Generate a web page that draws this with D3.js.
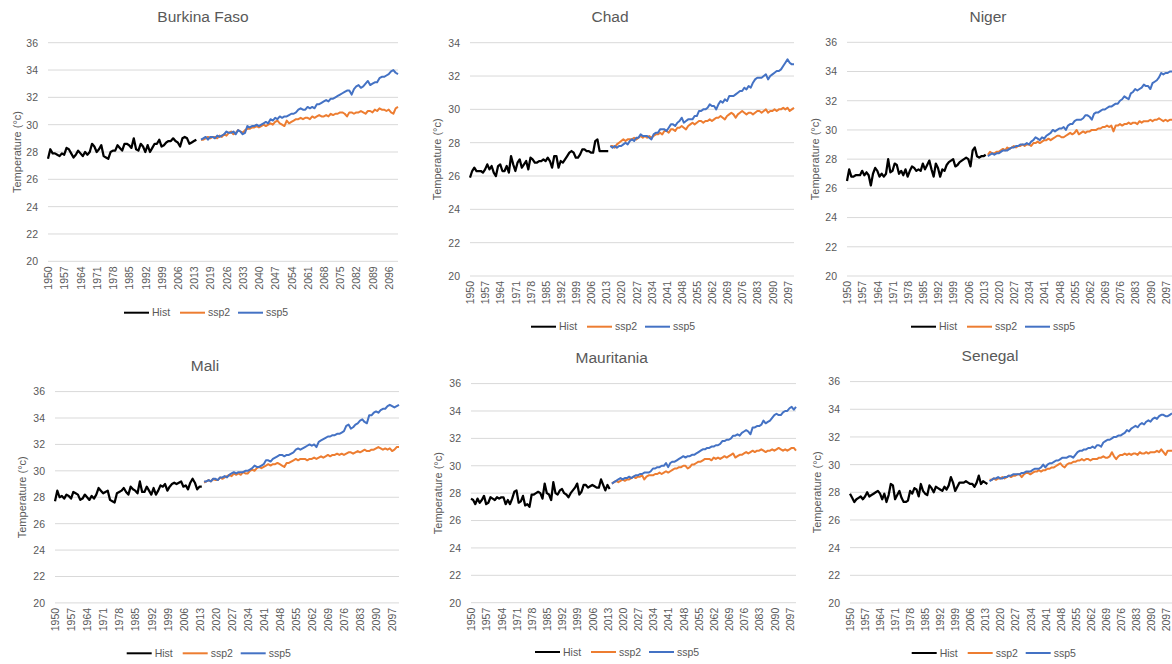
<!DOCTYPE html>
<html>
<head>
<meta charset="utf-8">
<script src="https://cdn.jsdelivr.net/npm/d3@7"></script>
<style>
  html, body { margin: 0; padding: 0; background: #fff; overflow: hidden; }
  svg { display: block; font-family: "Liberation Sans", Arial, sans-serif; }
</style>
</head>
<body>
<svg id="chart" width="1172" height="664"></svg>
<script>
// ---- categories ----
const histYears = d3.range(1950, 2015);   // historical period
const sspYears = d3.range(2015, 2101);    // scenario period
const tickYears = [1950, 1957, 1964, 1971, 1978, 1985, 1992, 1999, 2006, 2013,
  2020, 2027, 2034, 2041, 2048, 2055, 2062, 2069, 2076, 2083, 2090, 2097];
const tickYearsBF = [1950, 1957, 1964, 1971, 1978, 1985, 1992, 1999, 2006, 2013,
  2019, 2026, 2033, 2040, 2047, 2054, 2061, 2068, 2075, 2082, 2089, 2096];
const yTicks36 = [20, 22, 24, 26, 28, 30, 32, 34, 36];
const yTicks34 = [20, 22, 24, 26, 28, 30, 32, 34];

const countries = ["Burkina Faso", "Chad", "Niger", "Mali", "Mauritania", "Senegal"];
const seriesNames = ["Hist", "ssp2", "ssp5"];

// ---- mean annual temperature (°C) ----
const burkinaHist = [
  27.5, 28.2, 27.9, 27.9, 27.8, 27.7, 27.9, 27.8, 28.3, 28.2,
  27.9, 27.6, 27.8, 28.1, 27.9, 27.7, 28.0, 27.8, 28.0, 28.6,
  28.4, 28.0, 28.2, 28.5, 27.7, 27.6, 27.5, 28.0, 28.1, 28.1,
  28.5, 28.3, 28.1, 28.6, 28.6, 28.5, 28.3, 29.0, 28.2, 28.1,
  28.6, 28.4, 28.0, 28.5, 28.0, 28.3, 28.6, 28.6, 28.9, 28.4,
  28.5, 28.7, 28.8, 28.8, 29.0, 28.8, 28.7, 28.4, 29.0, 29.1,
  29.0, 28.6, 28.7, 28.8, 28.9];
const burkinaSsp2 = [
  28.9, 28.9, 29.0, 29.1, 29.0, 29.1, 29.1, 29.0, 29.2, 29.1,
  29.3, 29.2, 29.4, 29.5, 29.3, 29.4, 29.6, 29.5, 29.4, 29.6,
  29.7, 29.7, 29.8, 29.8, 29.9, 29.8, 29.9, 30.0, 29.9, 30.0,
  30.1, 30.0, 30.2, 30.3, 30.1, 30.0, 29.9, 30.3, 30.1, 30.2,
  30.3, 30.4, 30.4, 30.5, 30.4, 30.5, 30.5, 30.4, 30.6, 30.5,
  30.6, 30.7, 30.6, 30.6, 30.7, 30.6, 30.8, 30.7, 30.8, 30.8,
  30.9, 30.9, 30.8, 30.6, 30.9, 30.9, 30.8, 30.9, 30.9, 31.0,
  30.9, 30.8, 31.0, 31.0, 30.9, 31.1, 31.0, 31.2, 31.1, 31.1,
  31.0, 31.1, 30.9, 30.8, 31.2, 31.3];
const burkinaSsp5 = [
  28.9, 29.0, 29.1, 28.9, 29.1, 29.1, 29.0, 29.2, 29.1, 29.2,
  29.3, 29.5, 29.4, 29.4, 29.5, 29.3, 29.6, 29.5, 29.3, 29.4,
  29.9, 29.8, 29.9, 29.9, 30.0, 29.9, 30.0, 30.1, 30.2, 30.1,
  30.4, 30.3, 30.5, 30.4, 30.6, 30.5, 30.6, 30.6, 30.7, 30.8,
  30.8, 30.9, 31.1, 31.2, 31.1, 31.1, 31.3, 31.2, 31.3, 31.2,
  31.5, 31.5, 31.6, 31.7, 31.8, 31.7, 31.9, 31.9, 32.0, 32.1,
  32.2, 32.3, 32.4, 32.5, 32.5, 32.2, 32.6, 32.8, 32.9, 32.7,
  32.8, 33.0, 33.2, 32.9, 33.0, 33.1, 33.1, 33.4, 33.5, 33.5,
  33.6, 33.7, 33.9, 34.0, 33.8, 33.7];

const chadHist = [
  25.9, 26.3, 26.5, 26.3, 26.3, 26.3, 26.2, 26.4, 26.7, 26.4,
  26.6, 26.2, 26.0, 26.6, 26.7, 26.3, 26.3, 26.6, 26.2, 27.2,
  26.7, 26.3, 26.8, 27.0, 26.5, 26.7, 26.9, 26.4, 27.1, 27.0,
  26.8, 26.8, 26.9, 26.9, 27.0, 26.9, 27.1, 26.9, 26.5, 27.2,
  27.2, 26.5, 26.9, 26.8, 27.0, 27.2, 27.4, 27.5, 27.4, 27.1,
  27.1, 27.3, 27.6, 27.6, 27.5, 27.5, 27.4, 27.4, 28.1, 28.2,
  27.5, 27.5, 27.5, 27.5, 27.5];
const chadSsp2 = [
  27.8, 27.8, 27.7, 27.9, 28.0, 28.1, 28.2, 28.1, 28.2, 28.2,
  28.2, 28.3, 28.2, 28.3, 28.4, 28.3, 28.4, 28.3, 28.4, 28.3,
  28.4, 28.5, 28.5, 28.6, 28.5, 28.7, 28.7, 28.6, 28.8, 28.8,
  28.7, 28.9, 28.9, 29.0, 28.9, 28.8, 29.0, 29.1, 29.2, 29.1,
  29.2, 29.3, 29.3, 29.2, 29.3, 29.3, 29.4, 29.3, 29.4, 29.5,
  29.5, 29.6, 29.5, 29.4, 29.6, 29.7, 29.8, 29.7, 29.5, 29.7,
  29.8, 29.9, 29.8, 29.7, 29.8, 29.8, 29.7, 29.8, 29.9, 29.9,
  29.8, 29.9, 30.0, 29.8, 29.9, 29.9, 30.0, 29.9, 30.0, 30.0,
  30.1, 30.0, 30.1, 29.9, 30.0, 30.1];
const chadSsp5 = [
  27.8, 27.7, 27.8, 27.7, 27.8, 27.8, 27.9, 28.0, 27.9, 28.1,
  28.2, 28.1, 28.3, 28.3, 28.5, 28.4, 28.4, 28.4, 28.3, 28.2,
  28.5, 28.6, 28.6, 28.8, 28.8, 28.8, 28.7, 28.9, 29.1, 29.1,
  29.0, 29.2, 29.3, 29.5, 29.2, 29.3, 29.4, 29.4, 29.4, 29.6,
  29.6, 29.9, 29.9, 30.0, 30.0, 30.1, 30.3, 30.2, 30.2, 30.0,
  30.3, 30.5, 30.4, 30.6, 30.5, 30.8, 30.8, 30.8, 30.9, 31.0,
  31.1, 31.1, 31.3, 31.2, 31.4, 31.3, 31.6, 31.8, 31.9, 31.9,
  31.9, 32.0, 32.1, 31.8, 32.0, 32.1, 32.2, 32.3, 32.3, 32.4,
  32.6, 32.8, 33.0, 32.8, 32.7, 32.7];

const nigerHist = [
  26.5, 27.3, 26.8, 26.8, 26.9, 26.9, 26.9, 27.2, 26.9, 27.1,
  26.9, 26.2, 27.0, 27.4, 27.2, 26.8, 27.0, 26.8, 27.0, 28.0,
  27.1, 27.2, 27.7, 27.6, 27.0, 27.2, 26.9, 27.3, 26.8, 27.2,
  27.5, 27.4, 27.2, 27.3, 27.2, 27.7, 27.3, 27.6, 27.9, 27.3,
  26.8, 27.7, 27.4, 26.8, 27.3, 27.2, 27.6, 27.8, 27.9, 28.0,
  27.5, 27.6, 27.8, 27.9, 28.0, 28.1, 28.0, 27.5, 28.6, 28.8,
  28.2, 28.1, 28.2, 28.2, 28.3];
const nigerSsp2 = [
  28.3, 28.5, 28.4, 28.4, 28.5, 28.5, 28.6, 28.7, 28.6, 28.8,
  28.7, 28.8, 28.9, 28.8, 28.9, 28.9, 29.0, 28.9, 29.0, 29.0,
  28.9, 29.1, 29.1, 29.2, 29.1, 29.2, 29.3, 29.3, 29.4, 29.3,
  29.4, 29.5, 29.6, 29.6, 29.5, 29.5, 29.6, 29.7, 29.8, 29.7,
  29.8, 30.0, 29.7, 29.8, 29.9, 29.8, 29.9, 29.9, 30.0, 30.0,
  30.0, 30.1, 30.1, 30.2, 30.2, 30.3, 30.2, 30.3, 29.9, 30.3,
  30.3, 30.4, 30.3, 30.4, 30.4, 30.5, 30.4, 30.5, 30.5, 30.4,
  30.6, 30.5, 30.6, 30.6, 30.6, 30.7, 30.6, 30.7, 30.7, 30.8,
  30.7, 30.6, 30.7, 30.6, 30.7, 30.7];
const nigerSsp5 = [
  28.2, 28.3, 28.4, 28.3, 28.4, 28.4, 28.5, 28.6, 28.6, 28.6,
  28.7, 28.8, 28.8, 28.9, 28.9, 29.0, 29.0, 29.0, 29.1, 29.0,
  29.2, 29.3, 29.5, 29.4, 29.3, 29.5, 29.4, 29.6, 29.7, 29.8,
  30.0, 29.9, 30.0, 30.1, 30.1, 30.2, 30.0, 30.3, 30.4, 30.4,
  30.6, 30.7, 30.7, 30.7, 30.8, 31.0, 31.0, 30.9, 30.7, 31.1,
  31.2, 31.2, 31.3, 31.4, 31.4, 31.5, 31.6, 31.6, 31.7, 31.8,
  31.8, 32.0, 32.1, 32.3, 32.2, 32.1, 32.5, 32.6, 32.8, 32.7,
  32.8, 32.9, 33.1, 33.0, 33.0, 32.8, 33.2, 33.3, 33.4, 33.6,
  33.9, 33.8, 33.9, 33.9, 34.0, 34.0];

const maliHist = [
  27.7, 28.5, 28.0, 28.1, 27.9, 28.2, 28.1, 27.9, 28.4, 28.3,
  28.2, 27.8, 27.9, 28.2, 28.0, 27.8, 28.1, 27.9, 28.2, 28.7,
  28.5, 28.3, 28.4, 28.5, 27.8, 27.7, 27.6, 28.3, 28.4, 28.5,
  28.7, 28.4, 28.2, 28.8, 28.6, 28.5, 28.3, 29.2, 28.4, 28.4,
  28.8, 28.5, 28.2, 28.7, 28.2, 28.5, 28.9, 28.8, 29.0, 28.5,
  28.8, 29.0, 29.1, 29.0, 29.1, 29.2, 28.8, 28.9, 28.6, 29.1,
  29.4, 29.1, 28.6, 28.8, 28.8];
const maliSsp2 = [
  29.1, 29.2, 29.3, 29.2, 29.4, 29.3, 29.3, 29.5, 29.4, 29.5,
  29.6, 29.7, 29.6, 29.8, 29.7, 29.8, 29.7, 29.9, 29.8, 29.8,
  30.0, 30.1, 30.0, 30.2, 30.3, 30.2, 30.3, 30.4, 30.5, 30.4,
  30.5, 30.5, 30.6, 30.5, 30.4, 30.3, 30.6, 30.6, 30.7, 30.8,
  30.9, 30.8, 30.9, 30.9, 30.9, 30.8, 30.9, 30.9, 31.0, 30.9,
  31.0, 31.1, 31.0, 31.1, 31.2, 31.1, 31.2, 31.2, 31.3, 31.2,
  31.3, 31.2, 31.3, 31.4, 31.4, 31.3, 31.4, 31.5, 31.4, 31.5,
  31.6, 31.5, 31.5, 31.6, 31.6, 31.7, 31.8, 31.7, 31.6, 31.7,
  31.6, 31.7, 31.5, 31.6, 31.8, 31.8];
const maliSsp5 = [
  29.2, 29.2, 29.3, 29.2, 29.4, 29.4, 29.3, 29.5, 29.5, 29.6,
  29.5, 29.7, 29.8, 29.9, 29.8, 29.9, 29.9, 29.9, 30.0, 30.0,
  30.1, 30.2, 30.4, 30.3, 30.3, 30.4, 30.5, 30.8, 30.8, 30.7,
  30.9, 31.0, 31.1, 31.2, 31.2, 31.1, 31.2, 31.2, 31.3, 31.4,
  31.6, 31.7, 31.6, 31.7, 31.8, 31.9, 32.0, 31.9, 32.0, 31.8,
  32.2, 32.3, 32.4, 32.5, 32.6, 32.6, 32.7, 32.7, 32.8, 32.8,
  32.9, 33.0, 33.4, 33.5, 33.2, 33.3, 33.5, 33.6, 33.8, 33.9,
  33.7, 33.6, 34.2, 34.2, 34.4, 34.5, 34.4, 34.6, 34.7, 34.7,
  34.9, 35.0, 34.9, 34.8, 34.9, 35.0];

const mauritaniaHist = [
  27.6, 27.5, 27.2, 27.6, 27.3, 27.5, 27.8, 27.2, 27.3, 27.7,
  27.6, 27.5, 27.7, 27.6, 27.7, 27.7, 27.2, 27.5, 27.2, 27.6,
  28.1, 28.2, 27.3, 27.4, 27.8, 27.1, 27.2, 27.0, 27.9, 27.9,
  28.0, 28.1, 28.0, 27.6, 28.7, 28.0, 27.9, 27.5, 28.8, 28.0,
  27.9, 28.2, 28.3, 28.0, 27.9, 27.7, 28.0, 28.2, 28.4, 28.7,
  27.9, 28.1, 28.6, 28.6, 28.4, 28.5, 28.6, 28.5, 28.4, 28.4,
  29.0, 28.6, 28.2, 28.6, 28.3];
const mauritaniaSsp2 = [
  28.7, 28.8, 28.9, 28.8, 28.9, 29.0, 28.9, 29.0, 29.0, 29.1,
  29.2, 29.1, 29.2, 29.2, 29.3, 29.0, 29.2, 29.3, 29.3, 29.3,
  29.4, 29.4, 29.5, 29.4, 29.5, 29.6, 29.5, 29.6, 29.7, 29.8,
  29.8, 29.9, 29.9, 30.0, 30.0, 29.8, 29.9, 30.1, 30.1, 30.2,
  30.3, 30.3, 30.4, 30.5, 30.5, 30.5, 30.4, 30.6, 30.5, 30.6,
  30.5, 30.6, 30.7, 30.6, 30.7, 30.8, 30.9, 30.6, 30.7, 30.8,
  30.8, 30.9, 31.0, 30.9, 31.0, 31.1, 31.0, 31.1, 31.1, 31.2,
  31.1, 31.0, 31.1, 31.1, 31.2, 31.1, 31.2, 31.3, 31.2, 31.1,
  31.2, 31.1, 31.2, 31.3, 31.3, 31.1];
const mauritaniaSsp5 = [
  28.7, 28.8, 28.9, 29.0, 29.1, 29.0, 29.1, 29.1, 29.2, 29.1,
  29.2, 29.3, 29.3, 29.4, 29.4, 29.5, 29.5, 29.5, 29.6, 29.8,
  29.8, 29.9, 29.9, 30.0, 30.0, 30.2, 29.9, 30.2, 30.3, 30.3,
  30.4, 30.5, 30.6, 30.7, 30.6, 30.7, 30.7, 30.8, 30.8, 30.9,
  31.0, 31.1, 31.2, 31.2, 31.3, 31.3, 31.4, 31.4, 31.5, 31.5,
  31.6, 31.8, 31.8, 31.9, 31.9, 32.0, 32.2, 32.2, 32.3, 32.2,
  32.4, 32.5, 32.6, 32.5, 32.3, 32.8, 32.8, 32.9, 32.9, 33.0,
  33.3, 33.1, 33.2, 33.3, 33.5, 33.7, 33.8, 33.7, 33.7, 33.9,
  34.0, 34.0, 34.2, 34.3, 34.1, 34.3];

const senegalHist = [
  27.9, 27.6, 27.3, 27.5, 27.6, 27.7, 27.5, 27.7, 28.0, 27.7,
  27.8, 27.9, 28.0, 28.1, 27.9, 27.5, 27.9, 27.3, 27.8, 28.6,
  28.5, 27.5, 27.8, 28.1, 27.6, 27.3, 27.3, 27.4, 28.1, 27.9,
  28.3, 28.2, 27.7, 28.6, 28.1, 27.9, 27.8, 28.5, 28.3, 28.0,
  28.4, 28.3, 28.2, 28.1, 28.4, 28.2, 28.5, 29.1, 28.7, 28.1,
  28.4, 28.7, 28.7, 28.7, 28.8, 28.7, 28.6, 28.6, 28.4, 28.7,
  29.2, 28.6, 28.8, 28.7, 28.6];
const senegalSsp2 = [
  28.9, 28.9, 29.0, 28.9, 29.0, 29.0, 29.1, 29.0, 29.1, 29.2,
  29.1, 29.2, 29.2, 29.3, 29.3, 29.1, 29.3, 29.4, 29.4, 29.3,
  29.4, 29.5, 29.5, 29.6, 29.5, 29.6, 29.6, 29.7, 29.7, 29.8,
  29.8, 29.9, 30.0, 30.1, 29.9, 29.8, 30.0, 30.1, 30.1, 30.2,
  30.2, 30.3, 30.3, 30.4, 30.3, 30.4, 30.4, 30.3, 30.4, 30.4,
  30.4, 30.5, 30.5, 30.6, 30.5, 30.5, 30.6, 30.9, 30.6, 30.4,
  30.6, 30.7, 30.7, 30.8, 30.7, 30.8, 30.7, 30.8, 30.8, 30.7,
  30.9, 30.8, 30.8, 30.9, 30.8, 30.9, 30.9, 30.9, 31.0, 30.9,
  31.1, 30.9, 30.7, 31.0, 31.0, 31.0];
const senegalSsp5 = [
  28.8, 28.9, 29.0, 29.0, 29.1, 29.0, 29.0, 29.1, 29.1, 29.2,
  29.2, 29.3, 29.3, 29.3, 29.3, 29.4, 29.4, 29.5, 29.5, 29.5,
  29.6, 29.7, 29.7, 29.7, 29.8, 30.0, 29.8, 30.0, 30.1, 30.1,
  30.2, 30.3, 30.3, 30.4, 30.5, 30.5, 30.5, 30.6, 30.6, 30.5,
  30.7, 30.9, 31.0, 31.0, 31.1, 31.1, 31.2, 31.2, 31.3, 31.2,
  31.4, 31.4, 31.3, 31.6, 31.7, 31.8, 31.8, 31.9, 32.0, 32.0,
  32.1, 32.1, 32.2, 32.3, 32.5, 32.4, 32.6, 32.7, 32.8, 32.7,
  32.9, 33.0, 32.9, 33.1, 33.2, 33.1, 33.3, 33.4, 33.3, 33.5,
  33.6, 33.6, 33.5, 33.5, 33.6, 33.7];

// ---- panel set-up ----
const panels = [
  { name: countries[0], hist: burkinaHist, ssp2: burkinaSsp2, ssp5: burkinaSsp5, yTicks: yTicks36, xTicks: tickYearsBF, spacer: true },
  { name: countries[1], hist: chadHist, ssp2: chadSsp2, ssp5: chadSsp5, yTicks: yTicks34, xTicks: tickYears, spacer: false },
  { name: countries[2], hist: nigerHist, ssp2: nigerSsp2, ssp5: nigerSsp5, yTicks: yTicks36, xTicks: tickYears, spacer: false },
  { name: countries[3], hist: maliHist, ssp2: maliSsp2, ssp5: maliSsp5, yTicks: yTicks36, xTicks: tickYears, spacer: false },
  { name: countries[4], hist: mauritaniaHist, ssp2: mauritaniaSsp2, ssp5: mauritaniaSsp5, yTicks: yTicks36, xTicks: tickYears, spacer: false },
  { name: countries[5], hist: senegalHist, ssp2: senegalSsp2, ssp5: senegalSsp5, yTicks: yTicks36, xTicks: tickYears, spacer: false }
];

// plot geometry of each small multiple
const layout = [
  { x0: 48,  x1: 398,  yTop: 42.7,  yBot: 261.3, tx: 203,   ty: 21.7,  ax: 16.7,  lx: 124,   ly: 312.7 },
  { x0: 470, x1: 794,  yTop: 42.7,  yBot: 276,   tx: 610,   ty: 21.7,  ax: 437,   lx: 531,   ly: 326.7 },
  { x0: 847, x1: 1172, yTop: 42.3,  yBot: 276,   tx: 988,   ty: 21.7,  ax: 815,   lx: 911,   ly: 326.7 },
  { x0: 55,  x1: 399,  yTop: 391.6, yBot: 602.9, tx: 205,   ty: 370.7, ax: 21.7,  lx: 126.7, ly: 653.3 },
  { x0: 471, x1: 796,  yTop: 383.6, yBot: 602.7, tx: 611.7, ty: 362.7, ax: 438.3, lx: 535,   ly: 652 },
  { x0: 850, x1: 1172, yTop: 381.6, yBot: 603,   tx: 990,   ty: 360.7, ax: 816.7, lx: 911.7, ly: 653 }
];

const colors = { Hist: "#000000", ssp2: "#ED7D31", ssp5: "#4472C4" };
const textColor = "#595959";
const gridColor = "#D9D9D9";
const legendOffsets = [0, 56, 114];

const svg = d3.select("#chart");

panels.forEach((p, k) => {
  const L = layout[k];
  const keys = histYears.map(String)
    .concat(p.spacer ? ["spacer"] : [])
    .concat(sspYears.map(String));

  const x = d3.scalePoint().domain(keys).range([L.x0, L.x1]);
  const yMax = p.yTicks[p.yTicks.length - 1];
  const y = d3.scaleLinear().domain([20, yMax]).range([L.yBot, L.yTop]);

  const g = svg.append("g").attr("class", "panel");

  // horizontal gridlines
  g.append("g").selectAll("line")
    .data(p.yTicks)
    .join("line")
    .attr("x1", L.x0).attr("x2", L.x1)
    .attr("y1", d => y(d)).attr("y2", d => y(d))
    .attr("stroke", gridColor)
    .attr("stroke-width", 1);

  // y axis labels
  const yAxis = g.append("g")
    .attr("transform", `translate(${L.x0 - 10},0)`)
    .call(d3.axisLeft(y).tickValues(p.yTicks).tickSize(0).tickPadding(0));
  yAxis.select(".domain").remove();
  yAxis.attr("font-family", null).attr("font-size", null);
  yAxis.selectAll("text")
    .attr("fill", textColor)
    .style("font-size", "10.5px");

  // x axis labels, rotated
  const xAxis = g.append("g")
    .attr("transform", `translate(0,${L.yBot + 5})`)
    .call(d3.axisBottom(x).tickValues(p.xTicks.map(String)).tickSize(0).tickPadding(0));
  xAxis.select(".domain").remove();
  xAxis.attr("font-family", null).attr("font-size", null);
  xAxis.selectAll("text")
    .attr("transform", "rotate(-90)")
    .attr("text-anchor", "end")
    .attr("x", 0).attr("y", 0)
    .attr("dy", "0.35em")
    .attr("fill", textColor)
    .style("font-size", "10.5px");

  // series
  const line = d3.line().x(d => x(d[0])).y(d => y(d[1]));
  const series = [
    { key: "Hist", pts: histYears.map((yr, i) => [String(yr), p.hist[i]]) },
    { key: "ssp2", pts: sspYears.map((yr, i) => [String(yr), p.ssp2[i]]) },
    { key: "ssp5", pts: sspYears.map((yr, i) => [String(yr), p.ssp5[i]]) }
  ];
  g.append("g").selectAll("path")
    .data(series)
    .join("path")
    .attr("d", d => line(d.pts))
    .attr("fill", "none")
    .attr("stroke", d => colors[d.key])
    .attr("stroke-width", d => d.key === "Hist" ? 2.25 : 2)
    .attr("stroke-linejoin", "round");

  // title
  g.append("text")
    .attr("x", L.tx).attr("y", L.ty)
    .attr("text-anchor", "middle")
    .attr("fill", textColor)
    .style("font-size", "15.5px")
    .text(p.name);

  // y axis title
  g.append("text")
    .attr("transform", `translate(${L.ax},${(L.yTop + L.yBot) / 2}) rotate(-90)`)
    .attr("text-anchor", "middle")
    .attr("dominant-baseline", "central")
    .attr("fill", textColor)
    .style("font-size", "11px")
    .text("Temperature (°c)");

  // legend
  const leg = g.append("g").selectAll("g")
    .data(seriesNames)
    .join("g")
    .attr("transform", (d, i) => `translate(${L.lx + legendOffsets[i]},${L.ly})`);
  leg.append("line")
    .attr("x1", 0).attr("x2", 25)
    .attr("stroke", d => colors[d])
    .attr("stroke-width", 2);
  leg.append("text")
    .attr("x", 28)
    .attr("dy", "0.35em")
    .attr("fill", textColor)
    .style("font-size", "10.5px")
    .text(d => d);
});
</script>
</body>
</html>
